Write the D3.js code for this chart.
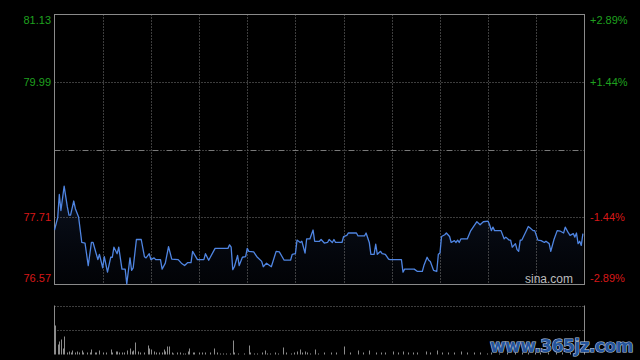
<!DOCTYPE html>
<html><head><meta charset="utf-8">
<script src="https://cdn.jsdelivr.net/npm/d3@7"></script>
<style>html,body{margin:0;padding:0;background:#000;}svg{display:block;}</style>
</head><body>
<script>
// ---- data ----
const prevClose = 78.85;
const priceTicks = [81.13, 79.99, 77.71, 76.57];
const pctTicks = ["+2.89%", "+1.44%", "-1.44%", "-2.89%"];
const totalMinutes = 330;
const gridMinutes = [30, 60, 90, 120, 150, 180, 210, 240, 270, 300];

const minutes = [0,2,3,4,6,8,9,10,12,13,15,17,19,21,23,24,27,28,30,31,33,35,36,37,39,40,42,44,45,47,48,49,51,54,56,57,59,60,62,63,66,67,69,71,73,77,79,81,83,85,86,89,93,94,96,100,108,109,110,111,112,114,115,117,119,120,121,124,126,129,130,132,135,138,140,143,147,148,150,151,153,154,156,157,159,161,162,165,166,168,170,171,173,174,175,179,180,182,183,188,189,193,194,196,197,199,200,201,203,204,206,208,209,216,217,218,224,226,229,230,232,233,234,236,238,239,240,241,243,244,246,247,249,250,251,252,253,257,259,261,263,265,267,270,271,272,273,274,278,280,281,283,284,285,287,288,289,290,291,294,295,296,298,299,301,303,305,306,308,309,311,313,315,317,318,320,321,323,324,325,326,327,328,329];
const prices = [77.49,77.70,78.09,77.82,78.23,77.88,77.74,77.74,77.98,77.85,77.71,77.28,77.27,76.89,77.28,77.28,76.99,77.08,76.85,77.04,76.78,77.03,77.03,77.20,77.09,77.20,76.83,76.83,76.58,77.02,76.81,76.85,77.33,77.33,77.04,77.02,77.09,76.99,77.02,76.99,76.99,76.83,76.93,77.21,77.00,76.99,76.93,76.89,76.94,76.94,77.13,76.99,76.99,77.09,76.98,77.18,77.18,77.24,77.20,76.82,76.87,77.06,76.89,77.03,77.04,77.18,77.13,77.12,77.04,76.96,76.87,76.93,76.87,77.13,77.12,76.98,76.98,77.08,77.09,77.32,77.28,77.30,77.10,77.34,77.34,77.49,77.30,77.30,77.33,77.27,77.28,77.33,77.28,77.33,77.28,77.28,77.38,77.40,77.44,77.44,77.39,77.39,77.44,77.28,77.08,77.08,77.25,77.08,77.13,77.09,77.08,77.00,76.99,76.99,76.78,76.83,76.83,76.79,76.79,76.89,77.03,76.98,76.96,76.81,76.79,77.08,77.10,77.38,77.41,77.44,77.38,77.28,77.31,77.28,77.32,77.28,77.34,77.34,77.47,77.55,77.63,77.58,77.63,77.64,77.57,77.48,77.54,77.48,77.48,77.34,77.37,77.32,77.32,77.20,77.26,77.16,77.13,77.32,77.32,77.49,77.55,77.53,77.48,77.48,77.32,77.31,77.28,77.30,77.26,77.13,77.33,77.48,77.47,77.44,77.54,77.44,77.40,77.43,77.37,77.44,77.26,77.30,77.23,77.43];

const volMinutes = [0,2,3,4,5,6,8,9,10,11,13,14,15,17,18,20,22,23,25,26,28,30,32,35,36,38,39,40,42,43,45,47,48,49,50,52,53,56,58,59,60,62,63,65,67,68,69,70,71,73,74,76,78,80,81,83,84,86,87,90,92,94,97,99,101,103,105,107,109,111,112,114,118,121,122,124,126,129,131,132,134,137,139,142,144,147,149,151,153,154,156,157,159,162,164,168,172,175,180,184,189,192,196,200,203,206,211,214,217,220,223,226,231,234,238,241,245,249,253,257,261,265,269,272,277,282,287,291,295,299,302,307,312,316,321,326];
const volValues = [29,10,13,15,6,18,2,3,2,4,2,3,2,4,2,2,2,5,2,2,4,2,2,5,2,3,3,2,2,2,4,6,3,4,12,3,2,2,9,6,5,3,2,2,2,5,3,8,8,2,1,2,2,1,1,3,6,2,2,2,2,2,2,6,2,1,1,1,1,14,2,1,1,9,2,1,1,2,4,1,1,2,1,7,2,1,2,3,5,2,3,2,1,5,1,2,2,2,8,2,4,2,4,2,2,2,3,2,3,2,2,2,3,2,4,2,2,2,3,2,2,2,1,2,1,2,2,2,2,2,2,2,2,2,2,2];
const volMax = 49;

// ---- layout ----
const W = 640, H = 360;
const L = 54.5, R = 584.5, T = 14.5, B = 284.5;
const VT = 305.5, VB = 354.5;

const svg = d3.select("body").append("svg").attr("width", W).attr("height", H)
  .style("background", "#000");

const x = d3.scaleLinear().domain([0, totalMinutes]).range([L, R]);
const y = d3.scaleLinear().domain([priceTicks[3], priceTicks[0]]).range([B, T]);
const yv = d3.scaleLinear().domain([0, volMax]).range([VB, VT]);

const gridColor = "#7a7a7a";

// area gradient
const defs = svg.append("defs");
const grad = defs.append("linearGradient").attr("id", "ag").attr("x1", 0).attr("y1", 0).attr("x2", 0).attr("y2", 1);
grad.append("stop").attr("offset", "0%").attr("stop-color", "#1a2a4a").attr("stop-opacity", 0.45);
grad.append("stop").attr("offset", "100%").attr("stop-color", "#0a1020").attr("stop-opacity", 0.2);

const pts = minutes.map((m, i) => [m, prices[i]]);

// area under line
svg.append("path").datum(pts)
  .attr("fill", "url(#ag)")
  .attr("d", d3.area().x(d => x(d[0])).y0(B).y1(d => y(d[1])));

// vertical grid
svg.append("g").selectAll("line").data(gridMinutes).join("line")
  .attr("x1", d => Math.round(x(d)) + 0.5).attr("x2", d => Math.round(x(d)) + 0.5)
  .attr("y1", T).attr("y2", B)
  .attr("stroke", gridColor).attr("stroke-width", 1).attr("stroke-dasharray", "1,2");

// horizontal grid
const hLines = [priceTicks[1], priceTicks[2]];
svg.append("g").selectAll("line").data(hLines).join("line")
  .attr("x1", L).attr("x2", R)
  .attr("y1", d => Math.round(y(d)) + 0.5).attr("y2", d => Math.round(y(d)) + 0.5)
  .attr("stroke", gridColor).attr("stroke-dasharray", "1,2");
// prev close line (dash-dot)
svg.append("line")
  .attr("x1", L).attr("x2", R)
  .attr("y1", Math.round(y(prevClose)) + 0.5).attr("y2", Math.round(y(prevClose)) + 0.5)
  .attr("stroke", gridColor).attr("stroke-dasharray", "6,2,1,2,1,2");

// border
svg.append("rect").attr("x", L).attr("y", T).attr("width", R - L).attr("height", B - T)
  .attr("fill", "none").attr("stroke", "#8a8a8a");

// price line
svg.append("path").datum(pts)
  .attr("fill", "none").attr("stroke", "#4f85e2").attr("stroke-width", 1.3)
  .attr("stroke-linejoin", "round")
  .attr("d", d3.line().x(d => x(d[0])).y(d => y(d[1])));

// left labels
const lblColors = ["#1fa01f", "#1fa01f", "#d81818", "#d81818"];
const lblDy = [6, 0, 0, -6];
svg.append("g").selectAll("text").data(priceTicks).join("text")
  .attr("x", 51).attr("y", (d, i) => y(d) + lblDy[i]).attr("dy", "0.36em")
  .attr("text-anchor", "end").attr("fill", (d, i) => lblColors[i])
  .style("font", "11px 'Liberation Sans', Arial, sans-serif")
  .text(d => d.toFixed(2));
// right labels
svg.append("g").selectAll("text").data(pctTicks).join("text")
  .attr("x", 590).attr("y", (d, i) => y(priceTicks[i]) + lblDy[i]).attr("dy", "0.36em")
  .attr("text-anchor", "start").attr("fill", (d, i) => lblColors[i])
  .style("font", "11px 'Liberation Sans', Arial, sans-serif")
  .text(d => d);

// sina.com
svg.append("text").attr("x", 573).attr("y", 283).attr("text-anchor", "end")
  .attr("fill", "#bdbdbd").style("font", "12px 'Liberation Sans', Arial, sans-serif").text("sina.com");

// volume panel
[VT, (VT + VB) / 2].forEach(v => {
  svg.append("line").attr("x1", L).attr("x2", R).attr("y1", Math.round(v) + 0.5).attr("y2", Math.round(v) + 0.5)
    .attr("stroke", gridColor).attr("stroke-dasharray", "1,2");
});
svg.append("line").attr("x1", L).attr("x2", L).attr("y1", VT).attr("y2", VB).attr("stroke", "#8a8a8a");
svg.append("line").attr("x1", R).attr("x2", R).attr("y1", VT).attr("y2", VB).attr("stroke", "#8a8a8a");

svg.append("g").selectAll("line").data(volMinutes.map((m, i) => [m, volValues[i]])).join("line")
  .attr("x1", d => Math.round(x(d[0])) + 0.5).attr("x2", d => Math.round(x(d[0])) + 0.5)
  .attr("y1", VB).attr("y2", d => yv(d[1]))
  .attr("stroke", "#8c8c8c").attr("stroke-width", 1);

// watermark
svg.append("text").attr("x", 633).attr("y", 352).attr("text-anchor", "end")
  .attr("fill", "#24549c").attr("stroke", "#b8c6dc").attr("stroke-width", 1.2)
  .attr("paint-order", "stroke")
  .style("font", "bold 17px 'DejaVu Sans', sans-serif").style("letter-spacing", "-0.5px")
  .text("www.365jz.com");
</script>
</body></html>
